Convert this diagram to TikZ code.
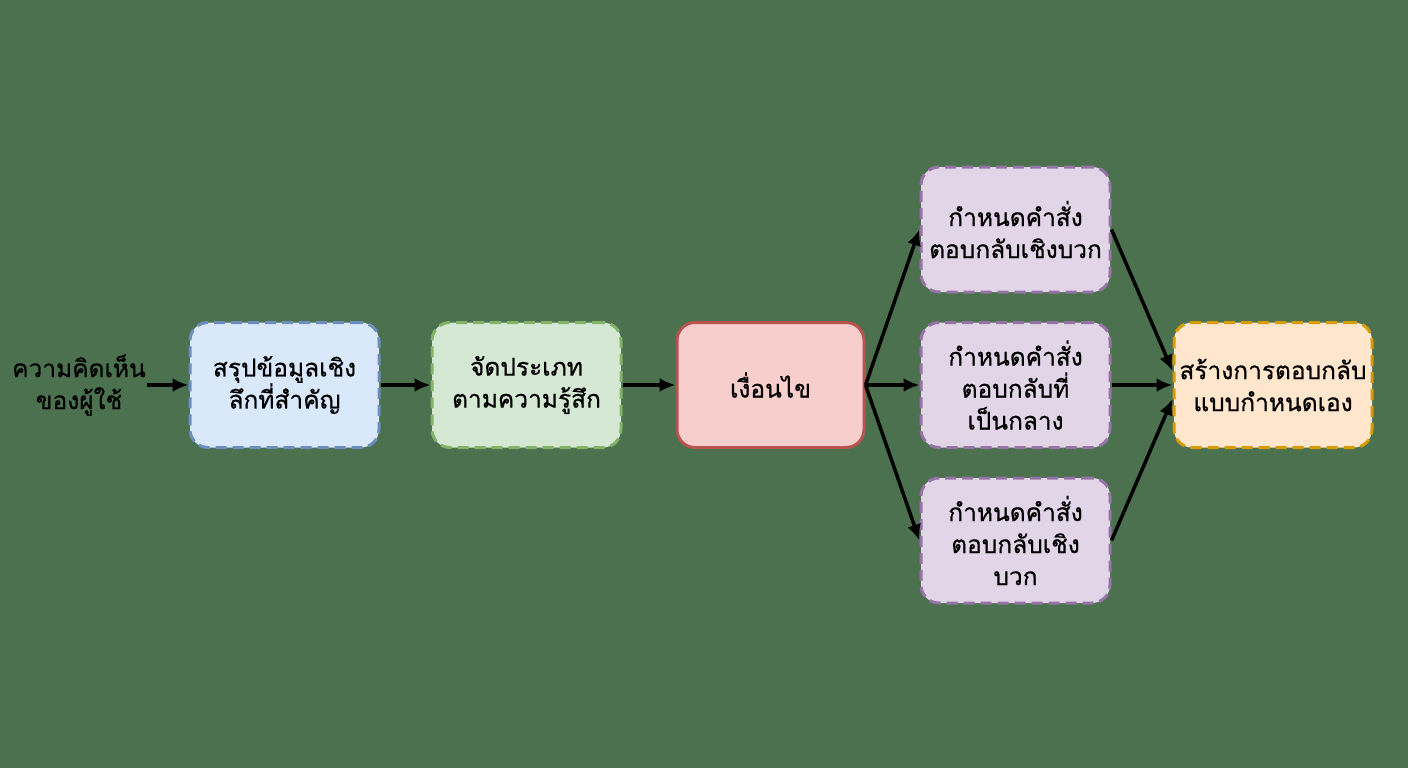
\documentclass[tikz,border=0pt]{standalone}
\usepackage{fontspec}
\newfontfamily\thaifont[Script=Thai,FakeBold=0.6]{Loma}
\usetikzlibrary{arrows.meta}
\definecolor{bg}{HTML}{4B714F}
\definecolor{bluefill}{HTML}{DAE8FC}
\definecolor{bluedraw}{HTML}{6C8EBF}
\definecolor{greenfill}{HTML}{D5E8D4}
\definecolor{greendraw}{HTML}{82B366}
\definecolor{redfill}{HTML}{F8CECC}
\definecolor{reddraw}{HTML}{B85450}
\definecolor{purplefill}{HTML}{E1D5E7}
\definecolor{purpledraw}{HTML}{9673A6}
\definecolor{orangefill}{HTML}{FFE6CC}
\definecolor{orangedraw}{HTML}{D79B00}
\tikzset{
  thaitext/.style={font=\thaifont\fontsize{24.5}{32}\selectfont, align=center},
  box/.style={thaitext, rounded corners=18pt, minimum width=189pt, minimum height=125pt, line width=3pt, inner sep=3pt},
  dbox/.style={box, dash pattern=on 11pt off 6pt},
  arr/.style={-{Latex[length=16pt,width=14pt]}, line width=3.5pt, black},
}
\begin{document}
\begin{tikzpicture}[x=1pt,y=-1pt]
\fill[bg] (0,0) rectangle (1408,768);
\useasboundingbox (0,0) rectangle (1408,768);
\node[thaitext, inner sep=1pt] (in) at (79,385) {ความคิดเห็น\\ของผู้ใช้};
\node[dbox, fill=bluefill, draw=bluedraw] (b1) at (284.5,385) {สรุปข้อมูลเชิง\\ลึกที่สำคัญ};
\node[dbox, fill=greenfill, draw=greendraw] (b2) at (526.5,385) {จัดประเภท\\ตามความรู้สึก};
\node[box, fill=redfill, draw=reddraw, minimum width=187pt] (c) at (770.5,385) {เงื่อนไข};
\node[dbox, fill=purplefill, draw=purpledraw] (p1) at (1015.5,229.5) {กำหนดคำสั่ง\\ตอบกลับเชิงบวก};
\node[dbox, fill=purplefill, draw=purpledraw] (p2) at (1015.5,385) {กำหนดคำสั่ง\\ตอบกลับที่\\เป็นกลาง};
\node[dbox, fill=purplefill, draw=purpledraw] (p3) at (1015.5,540.5) {กำหนดคำสั่ง\\ตอบกลับเชิง\\บวก};
\node[dbox, fill=orangefill, draw=orangedraw, minimum width=198pt] (o) at (1273,385) {สร้างการตอบกลับ\\แบบกำหนดเอง};
\draw[arr] (in.east) -- (b1.west);
\draw[arr] (b1.east) -- (b2.west);
\draw[arr] (b2.east) -- (c.west);
\draw[arr] (c.east) -- (p1.west);
\draw[arr] (c.east) -- (p2.west);
\draw[arr] (c.east) -- (p3.west);
\draw[arr] (p1.east) -- ([yshift=14pt]o.west);
\draw[arr] (p2.east) -- (o.west);
\draw[arr] (p3.east) -- ([yshift=-14pt]o.west);
\end{tikzpicture}
\end{document}
